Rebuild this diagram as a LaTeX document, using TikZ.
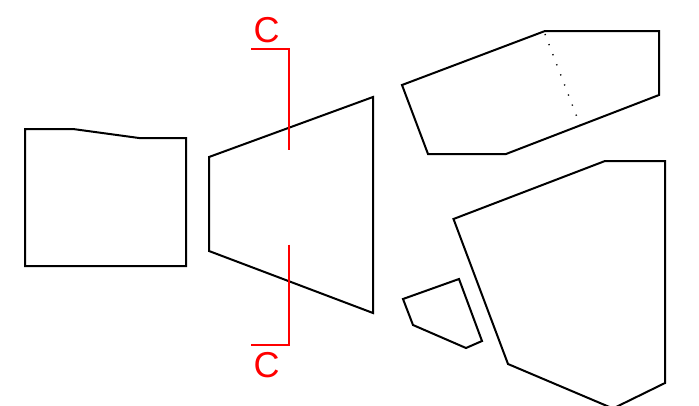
\documentclass[tikz,border=0pt]{standalone}
\usepackage{fontspec}
\setmainfont{Liberation Sans}
\usetikzlibrary{positioning}
\tikzset{
  part/.style={draw=black,line width=2pt,line join=miter},
  fold/.style={draw=black,line width=1.4pt,dash pattern=on 1.2pt off 9.6pt},
  cutline/.style={draw=red,line width=2pt},
  cutlabel/.style={text=red,font=\fontsize{36}{36}\selectfont,inner sep=0pt}
}
\begin{document}
\begin{tikzpicture}[x=1pt,y=-1pt]
  \useasboundingbox (0,0) rectangle (699,405);
  \clip (0,0) rectangle (699,405);
  % outlines
  \draw[part] (25,129) -- (73,129) -- (139,138) -- (186,138) -- (186,266) -- (25,266) -- cycle;
  \draw[part] (209,157) -- (373,97) -- (373,313) -- (209,251) -- cycle;
  \draw[part] (402,85) -- (545,31) -- (659,31) -- (659,95) -- (506,154) -- (428,154) -- cycle;
  \draw[fold] (545,34) -- (580,125);
  \draw[part] (453.5,219) -- (605,161) -- (665,161) -- (665,383) -- (613,408.5) -- (508,364) -- cycle;
  \draw[part] (403,299) -- (459,279) -- (482,341) -- (466,348) -- (413,325) -- cycle;
  % section marks
  \coordinate (topend) at (251,48.5);
  \coordinate (topcorner) at (288.5,48.5);
  \coordinate (topstop) at (288.5,150);
  \coordinate (botstop) at (288.5,244.5);
  \coordinate (botcorner) at (288.5,345);
  \coordinate (botend) at (251,345);
  \draw[cutline] (topend) -- (topcorner) -- (topstop);
  \draw[cutline] (botstop) -- (botcorner) -- (botend);
  \node[cutlabel] (ctop) at (266.5,30) {C};
  \node[cutlabel] (cbot) at (266.5,365.5) {C};
\end{tikzpicture}
\end{document}
